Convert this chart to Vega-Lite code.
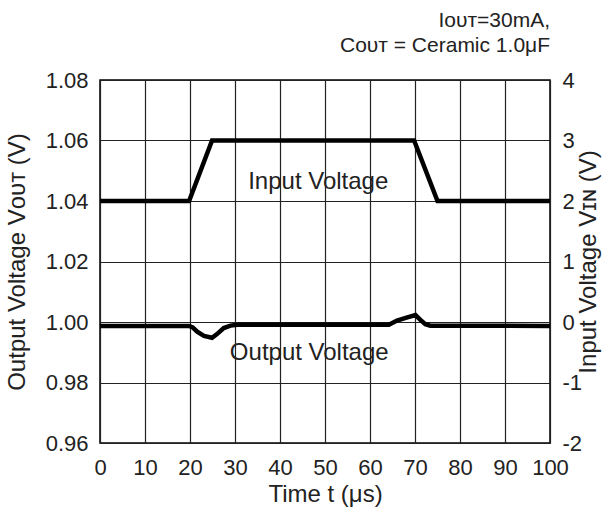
{
  "$schema": "https://vega.github.io/schema/vega-lite/v6.json",
  "autosize": {"type": "none"},
  "padding": {"left": 100, "top": 80, "right": 55, "bottom": 68},
  "width": 450,
  "height": 363,
  "background": "white",
  "title": {
    "text": ["Iᴏᴜᴛ=30mA,", "Cᴏᴜᴛ = Ceramic 1.0μF"],
    "anchor": "end",
    "frame": "group",
    "fontSize": 21,
    "fontWeight": "normal",
    "font": "Liberation Sans",
    "color": "#222",
    "lineHeight": 25,
    "offset": 13
  },
  "datasets": {
    "out": [
      {"t": 0, "v": 0.9987},
      {"t": 19.8, "v": 0.9987},
      {"t": 20.6, "v": 0.9982},
      {"t": 21.6, "v": 0.9968},
      {"t": 23.1, "v": 0.9954},
      {"t": 24.9, "v": 0.9948},
      {"t": 26.0, "v": 0.9960},
      {"t": 27.5, "v": 0.9980},
      {"t": 29.0, "v": 0.9988},
      {"t": 30.5, "v": 0.9991},
      {"t": 64.2, "v": 0.9991},
      {"t": 66.0, "v": 1.0005},
      {"t": 68.3, "v": 1.0015},
      {"t": 70.1, "v": 1.0023},
      {"t": 71.2, "v": 1.0007},
      {"t": 72.3, "v": 0.9993},
      {"t": 73.4, "v": 0.9988},
      {"t": 100, "v": 0.9987}
    ],
    "inp": [
      {"t": 0, "v": 2},
      {"t": 19.8, "v": 2},
      {"t": 24.9, "v": 3},
      {"t": 69.8, "v": 3},
      {"t": 75, "v": 2},
      {"t": 100, "v": 2}
    ],
    "labels": [
      {"t": 48.5, "v": 2.32, "label": "Input Voltage"},
      {"t": 46.5, "v": -0.51, "label": "Output Voltage"}
    ]
  },
  "layer": [
    {
      "data": {"name": "out"},
      "mark": {"type": "line", "color": "black", "strokeWidth": 4.5},
      "encoding": {
        "x": {
          "field": "t", "type": "quantitative",
          "scale": {"domain": [0, 100], "nice": false, "zero": false},
          "axis": {
            "values": [0, 10, 20, 30, 40, 50, 60, 70, 80, 90, 100],
            "title": "Time t (μs)",
            "grid": true
          }
        },
        "y": {
          "field": "v", "type": "quantitative",
          "scale": {"domain": [0.96, 1.08], "nice": false, "zero": false},
          "axis": {
            "orient": "left",
            "values": [0.96, 0.98, 1.0, 1.02, 1.04, 1.06, 1.08],
            "format": ".2f",
            "title": "Output Voltage Vᴏᴜᴛ (V)",
            "grid": true
          }
        }
      }
    },
    {
      "encoding": {
        "x": {
          "field": "t", "type": "quantitative",
          "scale": {"domain": [0, 100], "nice": false, "zero": false},
          "axis": {
            "values": [0, 10, 20, 30, 40, 50, 60, 70, 80, 90, 100],
            "title": "Time t (μs)",
            "grid": true
          }
        },
        "y": {
          "field": "v", "type": "quantitative",
          "scale": {"domain": [-2, 4], "nice": false, "zero": false},
          "axis": {
            "orient": "right",
            "values": [-2, -1, 0, 1, 2, 3, 4],
            "labelExpr": "datum.value < 0 ? '-' + abs(datum.value) : '' + datum.value",
            "title": "Input Voltage Vɪɴ (V)",
            "titleAngle": 270,
            "titleBaseline": "top",
            "titlePadding": -5,
            "grid": false
          }
        }
      },
      "layer": [
        {
          "data": {"name": "inp"},
          "mark": {"type": "line", "color": "black", "strokeWidth": 4.5}
        },
        {
          "data": {"name": "labels"},
          "mark": {"type": "text", "fontSize": 24, "font": "Liberation Sans", "color": "#222", "align": "center", "baseline": "middle"},
          "encoding": {"text": {"field": "label"}}
        }
      ]
    }
  ],
  "resolve": {"scale": {"y": "independent"}},
  "config": {
    "view": {"stroke": "black", "strokeWidth": 1.5},
    "axis": {
      "domain": false,
      "ticks": false,
      "tickSize": 0,
      "gridColor": "#222",
      "gridWidth": 1.2,
      "gridOpacity": 1,
      "labelFont": "Liberation Sans",
      "labelFontSize": 22,
      "labelColor": "#222",
      "labelPadding": 12,
      "labelOverlap": false,
      "labelFlush": false,
      "titleFont": "Liberation Sans",
      "titleFontSize": 24,
      "titleFontWeight": "normal",
      "titleColor": "#222"
    },
    "axisX": {"labelPadding": 14, "titlePadding": 4},
    "axisLeft": {"titlePadding": 16}
  }
}
